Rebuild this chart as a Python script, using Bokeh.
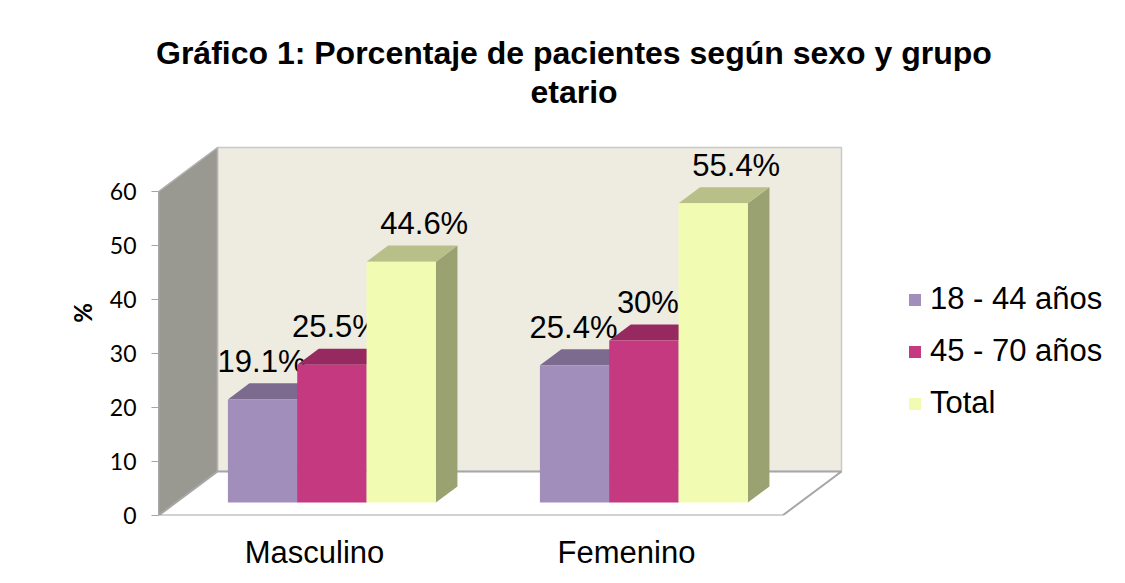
from bokeh.plotting import figure
from bokeh.models import Range1d, FixedTicker, Legend, LegendItem, Title
from bokeh.embed import file_html
from bokeh.resources import INLINE
from bokeh.core.properties import value

# ---------------- data ----------------
title_line1 = "Gráfico 1: Porcentaje de pacientes según sexo y grupo"
title_line2 = "etario"
categories = ["Masculino", "Femenino"]
series_names = ["18 - 44 años", "45 - 70 años", "Total"]
values_18_44 = [19.1, 25.4]
values_45_70 = [25.5, 30.0]
values_total = [44.6, 55.4]
labels_18_44 = ["19.1%", "25.4%"]
labels_45_70 = ["25.5%", "30%"]
labels_total = ["44.6%", "55.4%"]
y_ticks = [0, 10, 20, 30, 40, 50, 60]
y_axis_label = "%"

series_values = [values_18_44, values_45_70, values_total]
series_labels = [labels_18_44, labels_45_70, labels_total]

# ---------------- style / layout ----------------
front_colors = ["#A18EBB", "#C4397F", "#F1FBB1"]
top_colors = ["#7C6B8E", "#962A60", "#B9BF88"]
side_colors = ["#7C6B8E", "#962A60", "#9BA272"]
FONT = "Liberation Sans"

W, H = 1117, 575
ML, MR, MT, MB = 158, 5, 110, 60
FW = W - ML - MR
FH = H - MT - MB
PX = 5.4            # pixels per percent unit
X0 = ML             # data x == screen x
FLOOR_W = 624
DX = 59             # full depth offset in px (x)
DY = 44 / PX        # full depth offset in units (y)
F0, F1 = 0.295, 0.66
LABEL_DX = [-1, 4, 23]
LABEL_DY = 22 / PX

p = figure(width=W, height=H, output_backend="svg", toolbar_location=None,
           x_range=Range1d(X0, X0 + FW), y_range=Range1d(0, FH / PX),
           min_border_left=ML, min_border_right=MR, min_border_top=MT, min_border_bottom=MB)
p.outline_line_color = None
p.grid.visible = False
p.background_fill_color = "white"
p.border_fill_color = "white"

ymax = y_ticks[-1]
# back wall
p.patch([X0 + DX, X0 + FLOOR_W + DX, X0 + FLOOR_W + DX, X0 + DX],
        [DY, DY, ymax + DY, ymax + DY],
        fill_color="#EEEBE1", line_color="#C9C9C9", line_width=1.5)
# side wall
p.patch([X0, X0, X0 + DX, X0 + DX], [0, ymax, ymax + DY, DY],
        fill_color="#999891", line_color="#B5B5B5", line_width=1.5)
# floor
p.patch([X0, X0 + FLOOR_W, X0 + FLOOR_W + DX, X0 + DX], [0, 0, DY, DY],
        fill_color="white", line_color="#A6A6A6", line_width=2)

ncat = len(categories)
slot = FLOOR_W / ncat
bw = slot / 4.5
sx0, sy0 = F0 * DX, F0 * DY
bdx, bdy = (F1 - F0) * DX, (F1 - F0) * DY

front_renderers = []
for j, vals in enumerate(series_values):
    fx, fy, tx, ty, sx, sy, lx, ly = [], [], [], [], [], [], [], []
    for i, v in enumerate(vals):
        L = X0 + i * slot + 0.75 * bw + j * bw + sx0
        R = L + bw
        B = sy0
        T = sy0 + v
        fx.append([L, R, R, L]); fy.append([B, B, T, T])
        tx.append([L, R, R + bdx, L + bdx]); ty.append([T, T, T + bdy, T + bdy])
        sx.append([R, R + bdx, R + bdx, R]); sy.append([B, B + bdy, T + bdy, T])
        lx.append((L + R) / 2 + LABEL_DX[j]); ly.append(T + bdy + LABEL_DY)
    p.patches(sx, sy, fill_color=side_colors[j], line_color=None)
    p.patches(tx, ty, fill_color=top_colors[j], line_color=None)
    r = p.patches(fx, fy, fill_color=front_colors[j], line_color=None)
    front_renderers.append(r)
    p.text(lx, ly, text=series_labels[j], text_align="center", text_baseline="alphabetic",
           text_font=value(FONT), text_font_size="31px", text_color="black")

# y axis
p.yaxis.ticker = FixedTicker(ticks=y_ticks)
p.yaxis.bounds = (y_ticks[0], y_ticks[-1])
p.yaxis.axis_line_color = "#A6A6A6"
p.yaxis.major_tick_line_color = "#A6A6A6"
p.yaxis.major_tick_out = 7
p.yaxis.major_tick_in = 0
p.yaxis.minor_tick_line_color = None
p.yaxis.major_label_standoff = 15
p.yaxis.major_label_text_font = "Lato"
p.yaxis.major_label_text_font_size = "23px"
p.yaxis.major_label_text_color = "black"
p.yaxis.axis_label = y_axis_label
p.yaxis.axis_label_text_font = "Lato"
p.yaxis.axis_label_text_font_size = "24px"
p.yaxis.axis_label_text_font_style = "bold"
p.yaxis.axis_label_text_color = "black"
p.yaxis.axis_label_standoff = 10

# x axis (categories)
cat_ticks = [X0 + (i + 0.5) * slot for i in range(ncat)]
p.xaxis.ticker = FixedTicker(ticks=cat_ticks)
p.xaxis.major_label_overrides = {t: c for t, c in zip(cat_ticks, categories)}
p.xaxis.axis_line_color = None
p.xaxis.major_tick_line_color = None
p.xaxis.minor_tick_line_color = None
p.xaxis.major_label_standoff = 13
p.xaxis.major_label_text_font = FONT
p.xaxis.major_label_text_font_size = "31px"
p.xaxis.major_label_text_color = "black"

# title (two centred lines; the later-added title sits nearer the plot)
p.title.text = title_line1
p.title.align = "left"
p.title.offset = -2.5
p.title.text_font = FONT
p.title.text_font_size = "32px"
p.title.text_font_style = "bold"
p.title.text_color = "black"
p.title.standoff = 0
t2 = Title(text=title_line2, align="left", offset=372, text_font=FONT, text_font_size="32px",
           text_font_style="bold", text_color="black", standoff=2)
p.add_layout(t2, "above")

# legend
legend = Legend(items=[LegendItem(label=n, renderers=[r]) for n, r in zip(series_names, front_renderers)],
                location=(749, 94), orientation="vertical")
legend.label_text_font = FONT
legend.label_text_font_size = "31px"
legend.label_text_color = "black"
legend.glyph_width = 15
legend.glyph_height = 15
legend.label_height = 36
legend.label_standoff = 8
legend.spacing = 16
legend.padding = 0
legend.margin = 0
legend.border_line_color = None
legend.background_fill_alpha = 0
p.add_layout(legend)

open("out.html", "w").write(file_html(p, INLINE))
